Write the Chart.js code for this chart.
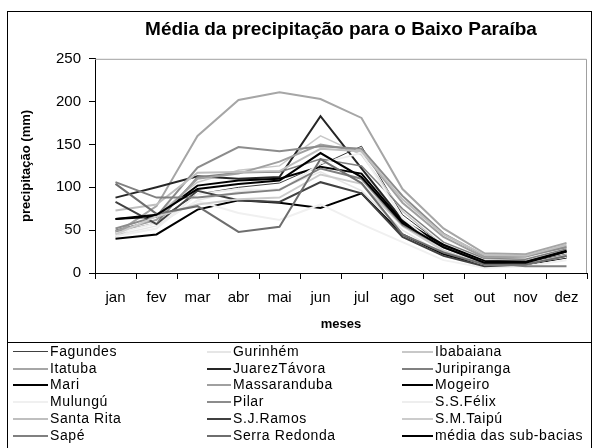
<!DOCTYPE html>
<html>
<head>
<meta charset="utf-8">
<script src="https://cdn.jsdelivr.net/npm/chart.js@4.4.1/dist/chart.umd.min.js"></script>
<style>
  html, body { margin: 0; padding: 0; background: #fff; }
  #frame { position: absolute; left: 7px; top: 11px; width: 583px; height: 440px; border: 1px solid #000; overflow: hidden; }
  #wrap { position: absolute; left: 0; top: 0; width: 583px; height: 331px; }
  #legend { position: absolute; left: 0; top: 330px; width: 583px; height: 110px; border-top: 1px solid #000;
    font-family: "Liberation Sans", Arial, sans-serif; font-size: 14px; letter-spacing: 0.6px; color: #000; }
  .item { position: absolute; height: 16px; line-height: 16px; white-space: nowrap; }
  .sw { position: absolute; top: 8px; }
  .lb { position: absolute; top: 0; }
</style>
</head>
<body>
<div id="frame">
  <div id="wrap"><canvas id="chart"></canvas></div>
  <div id="legend"></div>
</div>
<script>
  const months = ['jan', 'fev', 'mar', 'abr', 'mai', 'jun', 'jul', 'ago', 'set', 'out', 'nov', 'dez'];
  const stations = ['Fagundes', 'Gurinhém', 'Ibabaiana', 'Itatuba', 'JuarezTávora', 'Juripiranga',
    'Mari', 'Massaranduba', 'Mogeiro', 'Mulungú', 'Pilar', 'S.S.Félix',
    'Santa Rita', 'S.J.Ramos', 'S.M.Taipú', 'Sapé', 'Serra Redonda', 'média das sub-bacias'];

  // precipitação média mensal (mm)
  const fagundes     = [50, 62, 92, 100, 105, 126, 148, 68, 32, 11, 12, 22];
  const gurinhem     = [44, 55, 85, 95, 98, 118, 96, 50, 22, 8, 10, 18];
  const ibabaiana    = [42, 68, 106, 120, 125, 160, 138, 72, 32, 14, 15, 26];
  const itatuba      = [46, 78, 160, 202, 211, 203, 181, 98, 52, 23, 22, 35];
  const juarezTavora = [88, 100, 113, 110, 112, 183, 122, 62, 32, 13, 13, 25];
  const juripiranga  = [48, 58, 112, 117, 118, 133, 125, 75, 36, 17, 16, 28];
  const mari         = [63, 66, 102, 108, 110, 124, 116, 60, 33, 14, 13, 26];
  const massaranduba = [49, 62, 110, 116, 130, 150, 142, 82, 42, 18, 19, 31];
  const mogeiro      = [40, 45, 74, 85, 82, 76, 93, 45, 22, 9, 10, 18];
  const mulungu      = [46, 58, 84, 70, 62, 80, 57, 36, 15, 6, 8, 15];
  const pilar        = [52, 66, 123, 147, 142, 148, 145, 90, 46, 20, 20, 30];
  const ssFelix      = [43, 52, 92, 98, 96, 128, 140, 64, 26, 9, 11, 19];
  const santaRita    = [73, 80, 117, 118, 119, 145, 142, 86, 45, 21, 20, 33];
  const sjRamos      = [83, 57, 96, 85, 83, 106, 93, 42, 20, 8, 10, 20];
  const smTaipu      = [45, 66, 80, 86, 88, 115, 104, 55, 26, 10, 10, 21];
  const sape         = [106, 88, 88, 93, 97, 122, 110, 56, 30, 12, 8, 8];
  const serraRedonda = [104, 69, 78, 48, 54, 133, 105, 45, 24, 10, 10, 20];
  const media        = [63, 68, 98, 104, 108, 140, 112, 58, 30, 12, 12, 25];

  const yTicks = [0, 50, 100, 150, 200, 250];

  const series = [fagundes, gurinhem, ibabaiana, itatuba, juarezTavora, juripiranga,
    mari, massaranduba, mogeiro, mulungu, pilar, ssFelix,
    santaRita, sjRamos, smTaipu, sape, serraRedonda, media];
  const colors = ['#404040', '#e6e6e6', '#c8c8c8', '#a6a6a6', '#262626', '#808080',
    '#000000', '#a0a0a0', '#000000', '#f0f0f0', '#8c8c8c', '#eeeeee',
    '#bfbfbf', '#404040', '#cccccc', '#808080', '#6e6e6e', '#000000'];
  const widths = [1, 1.5, 1.5, 2, 2, 1.5, 2, 2, 2, 2, 2, 2, 2, 2, 2, 2, 2, 2];

  const FONT = '"Liberation Sans", Arial, sans-serif';

  // plot frame: gray top and right edges like the Excel original
  const frameEdges = {
    id: 'frameEdges',
    afterDatasetsDraw(chart) {
      const { ctx, chartArea: a } = chart;
      ctx.save();
      ctx.strokeStyle = '#a0a0a0';
      ctx.lineWidth = 1;
      ctx.beginPath();
      ctx.moveTo(a.left, a.top + 0.5);
      ctx.lineTo(a.right - 0.5, a.top + 0.5);
      ctx.lineTo(a.right - 0.5, a.bottom);
      ctx.stroke();
      ctx.restore();
    }
  };

  new Chart(document.getElementById('chart'), {
    type: 'line',
    data: {
      labels: months,
      datasets: series.map((d, i) => ({
        label: stations[i],
        data: d,
        borderColor: colors[i],
        backgroundColor: colors[i],
        borderWidth: widths[i],
        pointRadius: 0,
        tension: 0,
        order: -i
      }))
    },
    options: {
      responsive: true,
      maintainAspectRatio: false,
      animation: false,
      layout: { padding: { left: 0, right: 4, top: 0, bottom: 0 } },
      plugins: {
        legend: { display: false },
        tooltip: { enabled: false },
        title: {
          display: true,
          text: 'Média da precipitação para o Baixo Paraíba',
          fullSize: false,
          color: '#000',
          font: { family: FONT, size: 19, weight: 'bold' },
          padding: { top: 6, bottom: 18 }
        }
      },
      scales: {
        x: {
          offset: true,
          grid: { offset: true, drawOnChartArea: false, color: '#000', tickLength: 6, tickColor: '#000' },
          border: { color: '#000', width: 1 },
          ticks: { color: '#000', font: { family: FONT, size: 15 }, padding: 10, maxRotation: 0, autoSkip: false },
          title: { display: true, text: 'meses', color: '#000', font: { family: FONT, size: 13, weight: 'bold' }, padding: { top: 11, bottom: 11 } },
          afterFit(scale) { scale.height = 70; }
        },
        y: {
          min: 0,
          max: 250,
          afterBuildTicks(scale) { scale.ticks = yTicks.map(v => ({ value: v })); },
          grid: { drawOnChartArea: false, color: '#000', tickLength: 6, tickColor: '#000' },
          border: { color: '#000', width: 1 },
          ticks: { color: '#000', font: { family: FONT, size: 15 }, padding: 8 },
          title: { display: true, text: 'precipitação (mm)', color: '#000', font: { family: FONT, size: 13, weight: 'bold' }, padding: { top: 11, bottom: 11 } },
          afterFit(scale) { scale.width = 87; }
        }
      }
    },
    plugins: [frameEdges]
  });

  // legend in three columns, built from the same arrays
  const legend = document.getElementById('legend');
  const colLeft = [5, 199, 394];
  const swatchW = [35, 24, 31];
  stations.forEach((name, i) => {
    const col = i % 3, row = Math.floor(i / 3);
    const item = document.createElement('div');
    item.className = 'item';
    item.style.left = colLeft[col] + 'px';
    item.style.top = (row * 16.7) + 'px';
    const sw = document.createElement('div');
    sw.className = 'sw';
    sw.style.left = '0px';
    sw.style.width = swatchW[col] + 'px';
    sw.style.borderTop = Math.max(1, Math.round(widths[i])) + 'px solid ' + colors[i];
    const lb = document.createElement('span');
    lb.className = 'lb';
    lb.style.left = (swatchW[col] + 2) + 'px';
    lb.textContent = name;
    item.appendChild(sw);
    item.appendChild(lb);
    legend.appendChild(item);
  });
</script>
</body>
</html>
